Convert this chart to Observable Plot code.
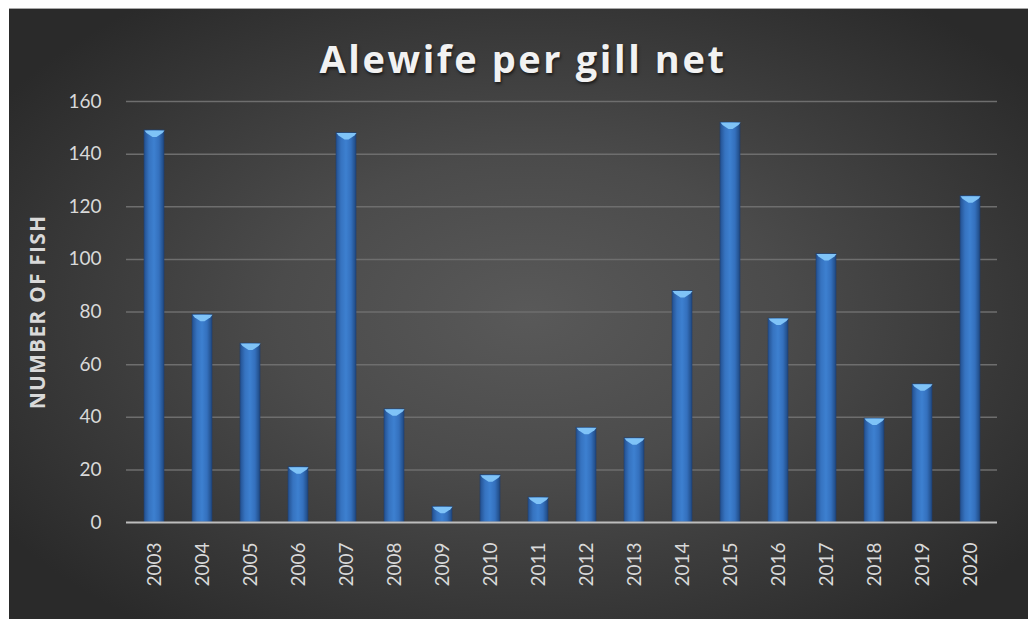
<!DOCTYPE html>
<html>
<head>
<meta charset="utf-8">
<script src="https://cdn.jsdelivr.net/npm/d3@7"></script>
<script src="https://cdn.jsdelivr.net/npm/@observablehq/plot@0.6"></script>
<style>
  html, body { margin: 0; padding: 0; background: #ffffff; }
  #page { position: relative; width: 1028px; height: 619px; overflow: hidden; background: #fff; }
  #panel {
    position: absolute; left: 9px; top: 8px; width: 1019px; height: 611px;
    border-top: 1px solid #a8a8a8; box-sizing: border-box;
    background: radial-gradient(ellipse 62% 64% at 51% 50%, #595959 0%, #4b4b4b 40%, #2a2a2a 100%);
  }
  #title {
    position: absolute; left: 9px; width: 1019px; top: 39px; text-align: center;
    padding-left: 9px; box-sizing: border-box;
    font-family: "Open Sans", sans-serif; font-weight: 700; font-size: 38px; line-height: 1;
    letter-spacing: 2.6px; color: #f2f2f2;
    text-shadow: 1px 2px 3px rgba(0,0,0,0.6);
  }
  #chart { position: absolute; left: 9px; top: 88px; }
</style>
</head>
<body>
<div id="page">
  <div id="panel"></div>
  <div id="title">Alewife per gill net</div>
  <div id="chart"></div>
</div>
<script>
const years = ["2003","2004","2005","2006","2007","2008","2009","2010","2011","2012","2013","2014","2015","2016","2017","2018","2019","2020"];
const fish = [149, 79, 68, 21, 148, 43, 6, 18, 9.5, 36, 32, 88, 152, 77.5, 102, 39.5, 52.5, 124];
const yTicks = [0, 20, 40, 60, 80, 100, 120, 140, 160];
const gridTicks = [20, 40, 60, 80, 100, 120, 140, 160];
const yLabel = "NUMBER OF FISH";

const data = years.map((y, i) => ({year: y, value: fish[i]}));

const capSymbol = {
  draw(context, size) {
    const r = Math.sqrt(size / Math.PI);
    context.moveTo(-r, 0);
    context.lineTo(r, 0);
    context.lineTo(r - 2, 2.5);
    context.lineTo(2, 6.5);
    context.lineTo(-2, 6.5);
    context.lineTo(-r + 2, 2.5);
    context.closePath();
  }
};

const W = 1019, H = 531;
const chart = Plot.plot({
  width: W,
  height: H,
  marginTop: 13,
  marginBottom: 97,
  marginLeft: 117,
  marginRight: 31,
  style: {background: "transparent", color: "#d9d9d9", fontFamily: "Lato, 'Open Sans', sans-serif", fontSize: "19px"},
  x: {domain: years, paddingInner: 0.586, paddingOuter: 0.293, label: null},
  y: {domain: [0, 160], label: null},
  marks: [
    Plot.ruleY(gridTicks, {stroke: "#6e6e6e", strokeWidth: 1.5}),
    Plot.barY(data, {x: "year", y: "value", fill: "url(#barGrad)", stroke: "#1e3f6e", strokeWidth: 0.6}),
    Plot.dot(data, {x: "year", y: "value", r: 10, symbol: capSymbol, fill: "#7fc3f7", stroke: "none"}),
    Plot.ruleY([0], {stroke: "#bdbdbd", strokeWidth: 2}),
    Plot.axisY(yTicks, {tickSize: 0, tickPadding: 25, label: null, fontSize: 19, fill: "#d9d9d9"}),
    Plot.axisX({tickSize: 0, tickPadding: 20, tickRotate: -90, label: null, fontSize: 19, fill: "#d9d9d9"}),
    Plot.text([yLabel], {frameAnchor: "left", textAnchor: "middle", dx: -88, rotate: -90, fontWeight: "bold", fontSize: 21, fill: "#d9d9d9", fontFamily: "'Open Sans', sans-serif"})
  ]
});

const svgNS = "http://www.w3.org/2000/svg";
const defs = document.createElementNS(svgNS, "defs");
defs.innerHTML = `
  <linearGradient id="barGrad" x1="0" x2="1" y1="0" y2="0">
    <stop offset="0" stop-color="#23508f"/>
    <stop offset="0.25" stop-color="#3673c0"/>
    <stop offset="0.5" stop-color="#3d80d0"/>
    <stop offset="0.75" stop-color="#3470bd"/>
    <stop offset="1" stop-color="#1f4880"/>
  </linearGradient>`;
chart.insertBefore(defs, chart.firstChild);
d3.select(chart).selectAll("text").filter(function() { return this.textContent === yLabel; })
  .attr("letter-spacing", "1.2px");
document.getElementById("chart").appendChild(chart);
</script>
</body>
</html>
